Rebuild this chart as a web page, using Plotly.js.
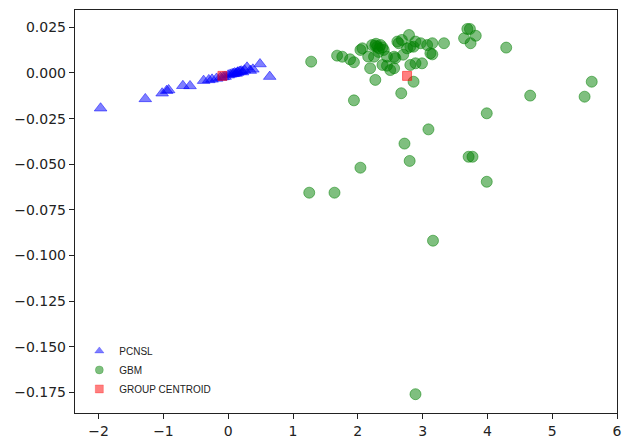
<!DOCTYPE html>
<html>
<head>
<meta charset="utf-8">
<script src="https://cdn.plot.ly/plotly-3.0.1.min.js"></script>
<style>html,body{margin:0;padding:0;background:#fff;}#chart{width:630px;height:442px;}</style>
</head>
<body>
<div id="chart"></div>
<script>
// PCNSL (blue triangles)
const pcnslX = [-1.97, -1.28, -1.02, -0.95, -0.92, -0.70, -0.59, -0.38, -0.30, -0.25, -0.18, -0.12, -0.05, 0.00, 0.03, 0.06, 0.10, 0.12, 0.15, 0.18, 0.20, 0.22, 0.25, 0.29, 0.34, 0.38, 0.49, 0.64, -0.08, 0.08, 0.14];
const pcnslY = [-0.0193, -0.0142, -0.0111, -0.0097, -0.0093, -0.0070, -0.0071, -0.0042, -0.0038, -0.0035, -0.0030, -0.0025, -0.0020, -0.0012, -0.0008, -0.0005, 0.0000, -0.0003, 0.0005, 0.0008, 0.0010, 0.0005, 0.0015, 0.0031, 0.0013, 0.0020, 0.0049, -0.0020, -0.0022, -0.0004, 0.0002];

// GBM (green circles)
const gbmX = [1.28, 1.68, 1.76, 1.88, 1.94, 2.04, 2.07, 2.22, 2.27, 2.30, 2.33, 2.35, 2.38, 2.40, 2.32, 2.28, 2.25, 2.19, 2.27, 2.38, 2.45, 2.50, 2.56, 2.56, 2.58, 2.61, 2.63, 2.68, 2.79, 2.76, 2.81, 2.86, 2.89, 2.97, 3.07, 3.15, 2.81, 2.89, 2.99, 3.12, 2.86, 2.67, 1.94, 3.33, 3.64, 3.69, 3.73, 3.82, 3.74, 3.15, 4.29, 5.61, 5.50, 4.66, 3.99, 3.09, 2.72, 2.80, 2.04, 3.71, 3.77, 3.99, 1.25, 1.64, 3.16, 2.89, 2.16, 2.45, 2.70];
const gbmY = [0.0062, 0.0095, 0.0089, 0.0075, 0.0059, 0.0126, 0.0135, 0.0153, 0.0150, 0.0144, 0.0135, 0.0153, 0.0140, 0.0126, 0.0115, 0.0160, 0.0089, 0.0026, -0.0038, 0.0044, 0.0089, 0.0016, 0.0026, 0.0089, 0.0081, 0.0172, 0.0163, 0.0181, 0.0208, 0.0135, 0.0144, 0.0144, 0.0172, 0.0163, 0.0153, 0.0163, 0.0044, 0.0053, 0.0053, 0.0108, -0.0048, -0.0111, -0.0150, 0.0163, 0.0190, 0.0241, 0.0241, 0.0204, 0.0163, 0.0102, 0.0139, -0.0048, -0.0130, -0.0124, -0.0221, -0.0309, -0.0387, -0.0482, -0.0519, -0.0459, -0.0459, -0.0596, -0.0656, -0.0656, -0.0919, -0.1760, 0.0090, 0.0040, 0.0100];

// Group centroids (red squares)
const centroidX = [-0.09, 2.76];
const centroidY = [-0.0016, -0.0016];

const seriesNames = ['PCNSL', 'GBM', 'GROUP CENTROID'];
const yTicks = [0.025, 0.000, -0.025, -0.050, -0.075, -0.100, -0.125, -0.150, -0.175];
const xTicks = [-2, -1, 0, 1, 2, 3, 4, 5, 6];

const styles = [
  {symbol: 'triangle-up', size: 11, rgba: 'rgba(0,0,255,0.5)'},
  {symbol: 'circle', size: 11, rgba: 'rgba(0,128,0,0.5)'},
  {symbol: 'square', size: 9, rgba: 'rgba(255,0,0,0.5)'}
];
const data = [[pcnslX, pcnslY], [gbmX, gbmY], [centroidX, centroidY]];

const traces = [];
data.forEach((d, i) => {
  const s = styles[i];
  traces.push({x: d[0], y: d[1], type: 'scatter', mode: 'markers', name: seriesNames[i], showlegend: false,
    marker: {symbol: s.symbol, size: s.size, color: s.rgba, line: {width: 1, color: s.rgba}}});
});
// legend-only entries with smaller legend markers
styles.forEach((s, i) => {
  traces.push({x: [null], y: [null], type: 'scatter', mode: 'markers', name: seriesNames[i], showlegend: true,
    marker: {symbol: s.symbol, size: 8, color: s.rgba, line: {width: 0.5, color: s.rgba}}});
});

const axisCommon = {
  showgrid: false, zeroline: false, showline: true, linecolor: '#222', linewidth: 1.2, mirror: true,
  ticks: 'outside', ticklen: 5, tickwidth: 1, tickcolor: '#222',
  tickfont: {family: 'DejaVu Sans', size: 14, color: '#222'}
};

const layout = {
  width: 630, height: 442,
  margin: {l: 75, r: 13, t: 10, b: 29},
  paper_bgcolor: '#fff', plot_bgcolor: '#fff',
  showlegend: true,
  legend: {x: 0.008, y: 0.19, xanchor: 'left', yanchor: 'top', bgcolor: 'rgba(0,0,0,0)',
    font: {family: 'Liberation Sans', size: 10, color: '#222'}, itemsizing: 'trace', itemwidth: 30, tracegroupgap: 0},
  xaxis: Object.assign({}, axisCommon, {range: [-2.365, 6.0], tickvals: xTicks, ticktext: xTicks.map(v => v < 0 ? '\u2212' + Math.abs(v) : String(v))}),
  yaxis: Object.assign({}, axisCommon, {range: [-0.1863, 0.0345], tickvals: yTicks, ticktext: yTicks.map(v => (v < 0 ? '\u2212' : '') + Math.abs(v).toFixed(3))})
};

Plotly.newPlot('chart', traces, layout, {displayModeBar: false, staticPlot: true});
</script>
</body>
</html>
